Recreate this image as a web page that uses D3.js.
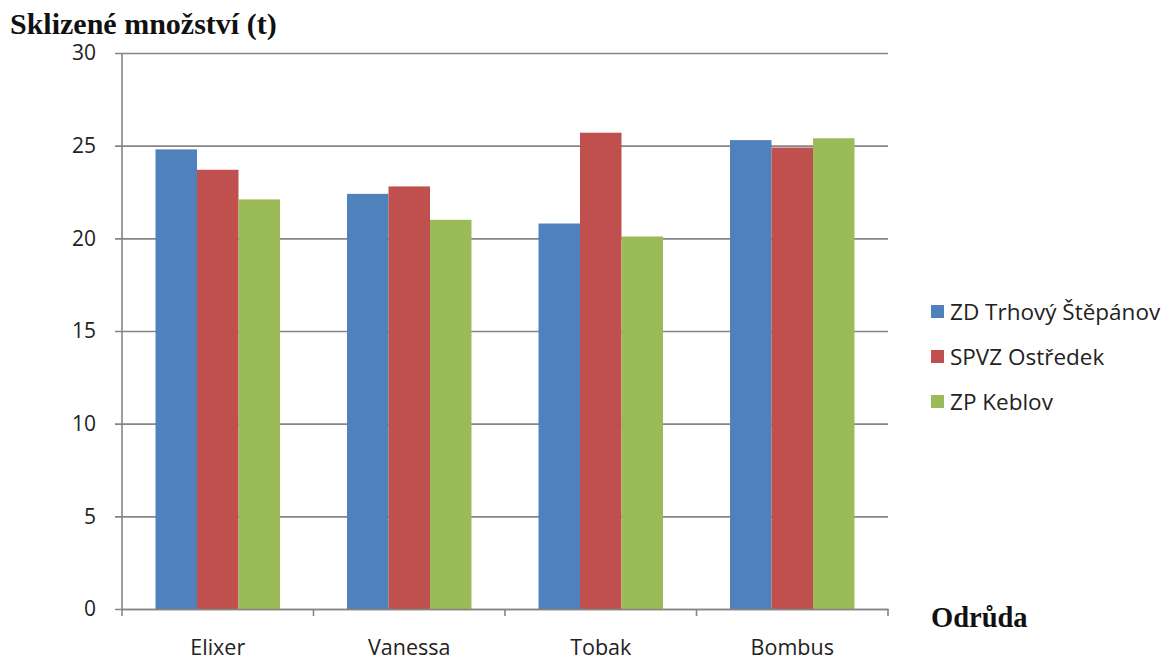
<!DOCTYPE html>
<html>
<head>
<meta charset="utf-8">
<script src="https://cdn.jsdelivr.net/npm/d3@7"></script>
<style>
  html, body { margin: 0; padding: 0; background: #fff; }
  svg { display: block; }
</style>
</head>
<body>
<svg id="chart" width="1169" height="662"></svg>
<script>
// Harvested quantity per variety and farm
const categories = ["Elixer", "Vanessa", "Tobak", "Bombus"];
const seriesNames = ["ZD Trhový Štěpánov", "SPVZ Ostředek", "ZP Keblov"];
const trhovyStepanov = [24.8, 22.4, 20.8, 25.3];
const spvzOstredek = [23.7, 22.8, 25.7, 24.9];
const zpKeblov = [22.1, 21.0, 20.1, 25.4];
const yTicks = [0, 5, 10, 15, 20, 25, 30];
const colors = ["#4F81BD", "#C0504D", "#9BBB59"];

const seriesValues = [trhovyStepanov, spvzOstredek, zpKeblov];
const table = categories.map((c, i) => ({
  category: c,
  values: seriesNames.map((s, j) => ({ series: s, idx: j, value: seriesValues[j][i] }))
}));

const svg = d3.select("#chart");
const plot = { left: 122, right: 888, top: 53, bottom: 609 };

const x0 = d3.scaleBand().domain(categories).range([plot.left, plot.right]).padding(0);
const x1 = d3.scaleBand().domain(seriesNames)
  .range([x0.bandwidth() * 0.175, x0.bandwidth() * 0.825]).padding(0);
const y = d3.scaleLinear().domain([0, 30]).range([plot.bottom, plot.top]);

const sans = "'Open Sans', sans-serif";
const serif = "'Liberation Serif', 'Times New Roman', serif";
const gridColor = "#858585";

// Horizontal gridlines with short outside ticks
const yAxis = d3.axisLeft(y).tickValues(yTicks)
  .tickSize(-(plot.right - plot.left)).tickSizeOuter(0).tickPadding(26)
  .tickFormat(d3.format("d"));
const gy = svg.append("g").attr("transform", `translate(${plot.left},0)`).call(yAxis);
gy.select(".domain").remove();
gy.selectAll(".tick line").attr("x1", -7).attr("stroke", gridColor).attr("stroke-width", 1.6);
gy.selectAll(".tick text").attr("font-family", sans).attr("font-size", 21).attr("fill", "#222");

// Bars
svg.append("g").selectAll("g").data(table).join("g")
  .attr("transform", d => `translate(${x0(d.category)},0)`)
  .selectAll("rect").data(d => d.values).join("rect")
  .attr("x", d => x1(d.series))
  .attr("width", x1.bandwidth())
  .attr("y", d => y(d.value))
  .attr("height", d => y(0) - y(d.value))
  .attr("fill", d => colors[d.idx]);

// Vertical axis line
svg.append("line").attr("x1", plot.left).attr("x2", plot.left)
  .attr("y1", y(30)).attr("y2", y(0)).attr("stroke", gridColor).attr("stroke-width", 1.6);

// Category axis
const xAxis = d3.axisBottom(x0).tickSize(0).tickPadding(0);
const gx = svg.append("g").attr("transform", `translate(0,${plot.bottom})`).call(xAxis);
gx.select(".domain").attr("stroke", gridColor).attr("stroke-width", 1.6);
gx.selectAll(".tick text").attr("font-family", sans).attr("font-size", 21.5).attr("fill", "#222")
  .attr("dy", 0).attr("y", 46);
// Category separators
const seps = [plot.left].concat(categories.map(c => x0(c) + x0.bandwidth()));
gx.selectAll("line.sep").data(seps).join("line").attr("class", "sep")
  .attr("x1", d => d).attr("x2", d => d).attr("y1", 0).attr("y2", 7)
  .attr("stroke", gridColor).attr("stroke-width", 1.6);

// Axis titles
svg.append("text").attr("x", 10).attr("y", 34)
  .attr("font-family", serif).attr("font-weight", "bold").attr("font-size", 30)
  .attr("fill", "#111").text("Sklizené množství (t)");
svg.append("text").attr("x", 931).attr("y", 627)
  .attr("font-family", serif).attr("font-weight", "bold").attr("font-size", 28.5)
  .attr("fill", "#111").text("Odrůda");

// Legend
const legend = svg.append("g").attr("transform", "translate(931,304)");
const li = legend.selectAll("g").data(seriesNames).join("g")
  .attr("transform", (d, i) => `translate(0,${i * 45})`);
li.append("rect").attr("width", 13).attr("height", 13).attr("y", 1)
  .attr("fill", (d, i) => colors[i]);
li.append("text").attr("x", 19).attr("y", 16)
  .attr("font-family", sans).attr("font-size", 22.5).attr("fill", "#222").text(d => d);
</script>
</body>
</html>
